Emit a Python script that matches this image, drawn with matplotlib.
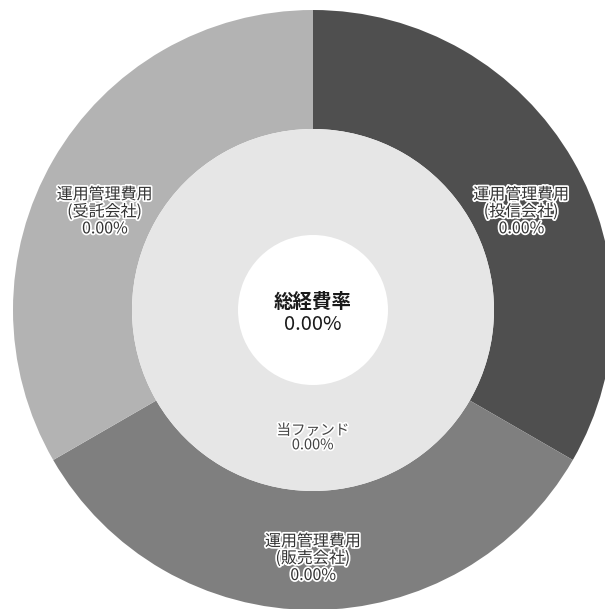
import numpy as np
import matplotlib
matplotlib.use("Agg")
import matplotlib.pyplot as plt
import matplotlib.patheffects as pe

plt.rcParams['font.family'] = ['Noto Sans CJK JP', 'DejaVu Sans']

# outer ring: cost breakdown (all shown as 0.00%, drawn as equal thirds)
outer_names = ["運用管理費用\n(投信会社)", "運用管理費用\n(販売会社)", "運用管理費用\n(受託会社)"]
outer_values = [1, 1, 1]
outer_pct = ["0.00%", "0.00%", "0.00%"]
outer_colors = ["#4f4f4f", "#7f7f7f", "#b3b3b3"]

# inner ring
inner_name = "当ファンド"
inner_pct = "0.00%"
center_title = "総経費率"
center_pct = "0.00%"

fig = plt.figure(figsize=(6.05, 6.09), dpi=100)
ax = fig.add_axes([0, 0, 1, 1])

R_out, R_mid, R_in = 300, 181, 75

ax.pie(outer_values, radius=R_out, startangle=90, counterclock=False,
       colors=outer_colors, wedgeprops=dict(width=R_out - R_mid, linewidth=0),
       frame=True)
ax.pie([1], radius=R_mid, startangle=90, colors=["#e6e6e6"],
       wedgeprops=dict(width=R_mid - R_in, linewidth=0), frame=True)
# axes in pixel units, pie centre at (313, 310) from top-left
ax.set_xlim(-313, 605 - 313)
ax.set_ylim(-(609 - 310), 310)
ax.set_aspect('equal')
ax.axis('off')

halo = [pe.withStroke(linewidth=2.5, foreground="white")]

# outer labels at arc middles
total = sum(outer_values)
start = 90.0
y_shift = [-22, -8, -22]
for name, v, pct, dy in zip(outer_names, outer_values, outer_pct, y_shift):
    span = 360.0 * v / total
    mid = np.deg2rad(start - span / 2)
    start -= span
    r = (R_out + R_mid) / 2
    ax.text(r * np.cos(mid), r * np.sin(mid) + dy, name + "\n" + pct,
            ha='center', va='center', fontsize=11.5, color="#333333",
            linespacing=1.0, path_effects=halo)

# inner ring label
r = (R_mid + R_in) / 2
ax.text(0, -r, inner_name + "\n" + inner_pct, ha='center', va='center',
        fontsize=10.5, color="#444444", linespacing=1.05, path_effects=halo)

# centre
ax.text(0, 8, center_title, ha='center', va='center', fontsize=14,
        fontweight='bold', color="#1a1a1a")
ax.text(0, -15, center_pct, ha='center', va='center', fontsize=14.5,
        color="#1a1a1a")

fig.savefig("out.png", dpi=100, facecolor="white")
